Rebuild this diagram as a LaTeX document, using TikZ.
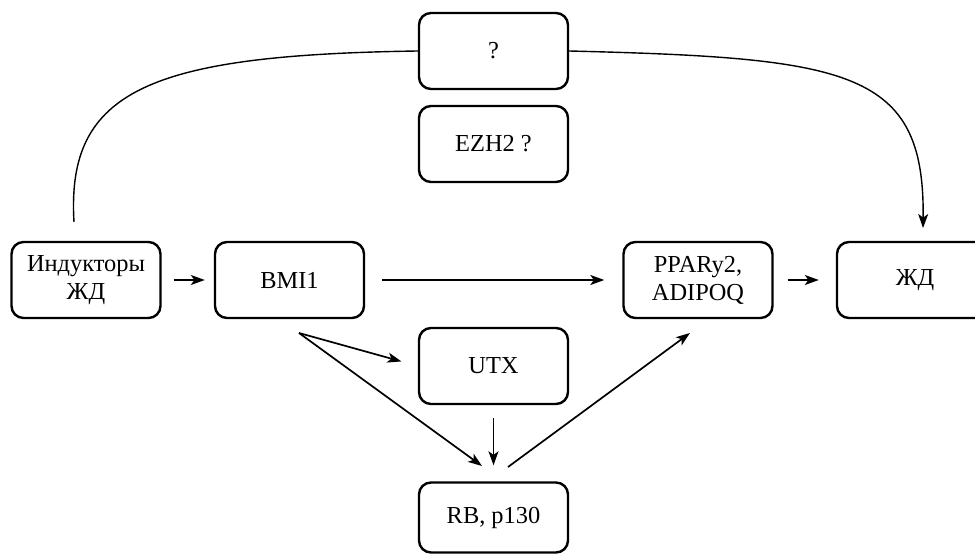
\documentclass[tikz,border=0pt]{standalone}
\usepackage{fontspec}
\setmainfont{Liberation Serif}
\usetikzlibrary{arrows.meta}

\begin{document}
\begin{tikzpicture}[x=0.5pt, y=-0.5pt,
    blok/.style={draw, line width=1.2pt, rounded corners=6pt, minimum width=74.5pt,
      minimum height=38pt, align=center, inner sep=2pt, font=\fontsize{12.2}{14}\selectfont},
    strel/.style={line width=0.85pt, -{Stealth[length=7pt, width=5pt, inset=1.8pt]}},
    dug/.style={line width=0.7pt}]
  \useasboundingbox (0,0) rectangle (975,555);
  \clip (0,0) rectangle (975,555);
  \node[blok] (vopr) at (493.5,51) {?};
  \node[blok] (ezh) at (493.5,144) {EZH2 ?};
  \node[blok] (ind) at (86,280) {Индукторы\\ЖД};
  \node[blok] (bmi) at (289.5,280) {BMI1};
  \node[blok] (ppar) at (698,280) {PPARy2,\\ADIPOQ};
  \node[blok, minimum width=78pt] (zhd) at (915,280) {ЖД};
  \node[blok] (utx) at (493.5,366) {UTX};
  \node[blok, minimum height=35pt] (rb) at (493.5,517.5) {RB, p130};
  \coordinate (bmiout) at (299,333);
  \coordinate (rbin) at (482,466);
  \coordinate (rbout) at (508,467);
  \coordinate (pparin) at (690,333);
  \coordinate (indup) at (74,222);
  \coordinate (zhdin) at (923,228);
  \foreach \a/\b/\s/\t in {ind/bmi/6pt/4.5pt, bmi/ppar/8.5pt/9pt, ppar/zhd/7pt/8.5pt}
    \draw[strel, shorten <=\s, shorten >=\t] (\a) -- (\b);
  \draw[strel, shorten >=8.5pt] (bmiout) -- (utx.west);
  \draw[strel] (bmiout) -- (rbin);
  \draw[strel, shorten <=6.5pt, shorten >=8pt] (utx) -- (rb);
  \draw[strel] (rbout) -- (pparin);
  \draw[dug] (indup) .. controls (66,90) and (150,55) .. (vopr.west);
  \draw[dug, -{Stealth[length=7pt, width=5pt, inset=1.8pt]}]
    (vopr.east) .. controls (850,58) and (925,70) .. (zhdin);
\end{tikzpicture}
\end{document}
